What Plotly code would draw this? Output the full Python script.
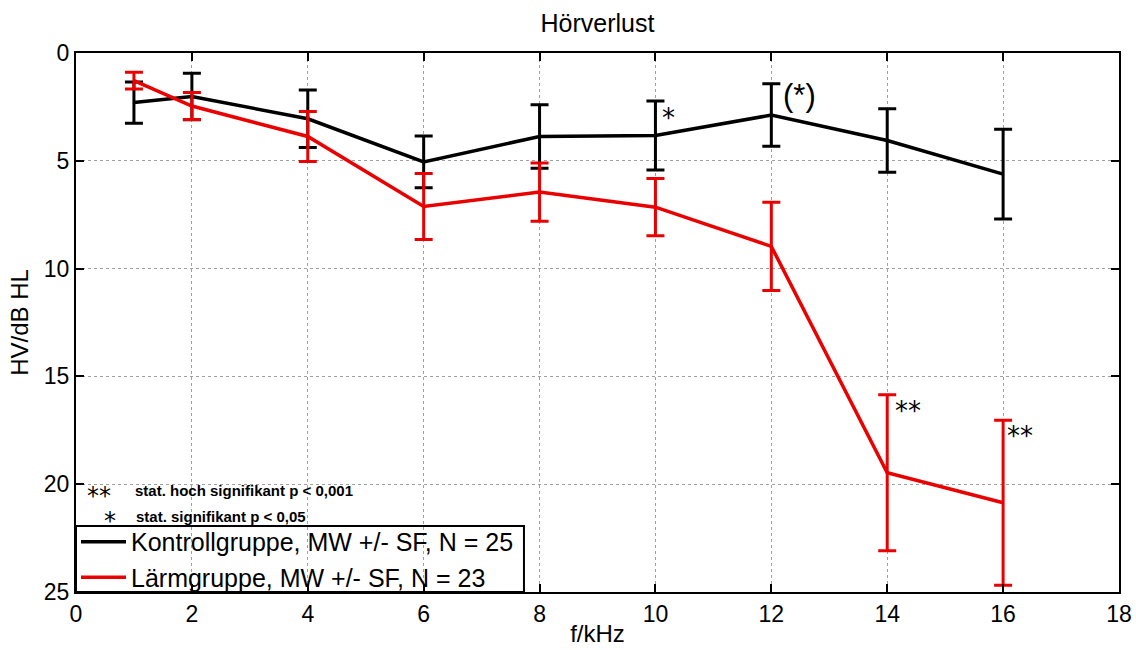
import plotly.graph_objects as go

freq = [1, 2, 4, 6, 8, 10, 12, 14, 16]
kontroll_mean = [2.30, 2.02, 3.05, 5.05, 3.87, 3.83, 2.88, 4.06, 5.62]
kontroll_sf = [0.96, 1.08, 1.33, 1.20, 1.47, 1.60, 1.45, 1.47, 2.08]
laerm_mean = [1.28, 2.46, 3.87, 7.12, 6.45, 7.15, 8.97, 19.47, 20.86]
laerm_sf = [0.39, 0.63, 1.16, 1.53, 1.35, 1.33, 2.05, 3.62, 3.83]

sig_x = [10.22, 12.48, 14.35, 16.3]
sig_y = [3.0, 1.95, 16.6, 17.75]
sig_text = ["*", "(*)", "**", "**"]

x_ticks = [0, 2, 4, 6, 8, 10, 12, 14, 16, 18]
y_ticks = [0, 5, 10, 15, 20, 25]

FONT = "Liberation Sans, Arial, Helvetica, sans-serif"
STARFONT = "DejaVu Sans, sans-serif"
RED = "rgb(235,0,0)"

fig = go.Figure()
fig.add_trace(go.Scatter(
    x=freq, y=kontroll_mean, mode="lines",
    name="Kontrollgruppe, MW +/- SF, N = 25",
    line=dict(color="black", width=3.5),
    error_y=dict(type="data", array=kontroll_sf, visible=True,
                 color="black", thickness=3, width=9),
))
fig.add_trace(go.Scatter(
    x=freq, y=laerm_mean, mode="lines",
    name="Lärmgruppe, MW +/- SF, N = 23",
    line=dict(color=RED, width=3.5),
    error_y=dict(type="data", array=laerm_sf, visible=True,
                 color=RED, thickness=3, width=9),
))

for xv, yv, t in zip(sig_x, sig_y, sig_text):
    if t == "(*)":
        f = dict(family=FONT, size=31, color="black")
    else:
        f = dict(family=STARFONT, size=26, color="black")
    fig.add_annotation(x=xv, y=yv, text=t, showarrow=False, font=f,
                       xanchor="center", yanchor="middle")

# significance notes (paper coords)
note_font = dict(family=FONT, size=15, color="black")
star_font = dict(family=STARFONT, size=24, color="black")
fig.add_annotation(xref="paper", yref="paper", x=0.0225, y=0.178, xanchor="center", yanchor="middle",
                   text="**", showarrow=False, font=star_font)
fig.add_annotation(xref="paper", yref="paper", x=0.0545, y=0.188, xanchor="left", yanchor="middle",
                   text="<b>stat. hoch signifikant p < 0,001</b>", showarrow=False, font=note_font)
fig.add_annotation(xref="paper", yref="paper", x=0.0325, y=0.131, xanchor="center", yanchor="middle",
                   text="*", showarrow=False, font=star_font)
fig.add_annotation(xref="paper", yref="paper", x=0.0555, y=0.141, xanchor="left", yanchor="middle",
                   text="<b>stat. signifikant p < 0,05</b>", showarrow=False, font=note_font)

# legend frame (white box with black border, drawn over the grid)
fig.add_shape(type="rect", xref="paper", yref="paper", x0=0, x1=0.4295, y0=0, y1=0.1225,
              line=dict(color="black", width=2), fillcolor="white", layer="between")

axis_common = dict(
    showline=True, linecolor="black", linewidth=2, mirror="ticks",
    ticks="inside", ticklen=8, tickwidth=2, tickcolor="black",
    showgrid=True, gridcolor="rgb(160,160,160)", griddash="dot", gridwidth=1,
    zeroline=False, tickfont=dict(family=FONT, size=23, color="black"),
    automargin=False,
)

fig.update_layout(
    width=1136, height=650,
    margin=dict(l=76, r=17, t=53, b=58, autoexpand=False),
    plot_bgcolor="white", paper_bgcolor="white",
    title=dict(text="Hörverlust", xref="paper", x=0.5, xanchor="center",
               y=0.964, yanchor="middle",
               font=dict(family=FONT, size=25, color="black")),
    xaxis=dict(range=[0, 18], tickvals=x_ticks,
               title=dict(text="f/kHz", font=dict(family=FONT, size=24, color="black"), standoff=0),
               **axis_common),
    yaxis=dict(range=[25, 0], tickvals=y_ticks,
               title=dict(text="HV/dB HL", font=dict(family=FONT, size=24, color="black"), standoff=8),
               **axis_common),
    legend=dict(x=0, y=-0.0148, xanchor="left", yanchor="bottom",
                bgcolor="rgba(0,0,0,0)", borderwidth=0,
                font=dict(family=FONT, size=25, color="black"),
                tracegroupgap=0, itemwidth=45),
    showlegend=True,
)

fig.write_html("out.html")
